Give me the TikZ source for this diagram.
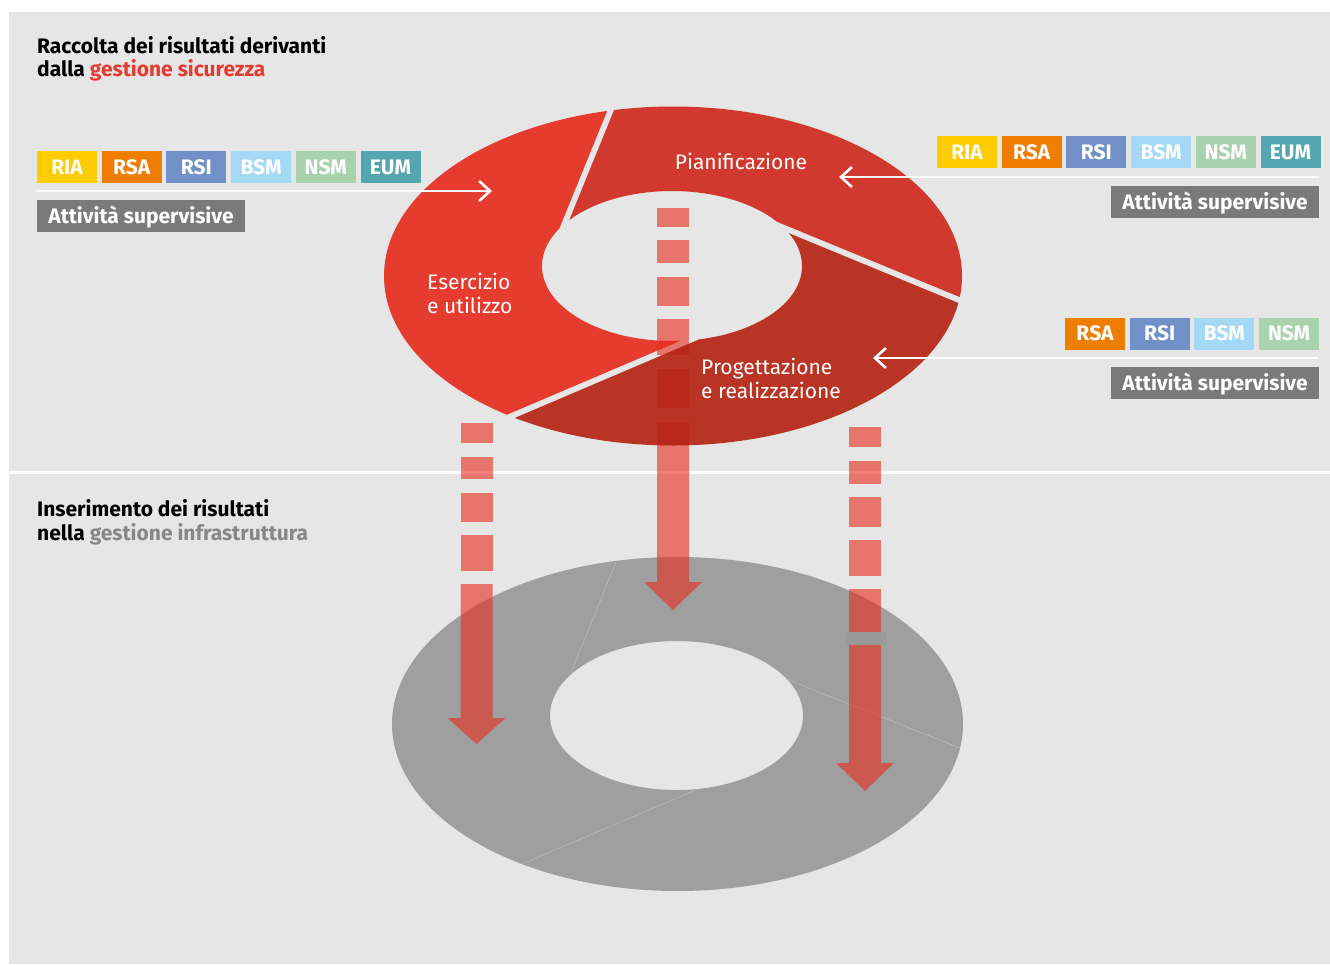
\documentclass[tikz,border=0pt]{standalone}
\usepackage{fontspec}
\setmainfont{Fira Sans}
\usetikzlibrary{positioning,arrows.meta}

\definecolor{panel}{HTML}{E6E6E6}
\definecolor{redEs}{RGB}{230,41,28}
\definecolor{redPi}{RGB}{207,39,27}
\definecolor{redPr}{RGB}{181,33,16}
\definecolor{dropred}{RGB}{233,43,27}
\definecolor{ringgrey}{HTML}{9F9F9F}
\definecolor{seam}{HTML}{B9B9B9}
\definecolor{cRIA}{HTML}{FFCC00}
\definecolor{cRSA}{HTML}{EF7D00}
\definecolor{cRSI}{HTML}{7290C8}
\definecolor{cBSM}{HTML}{A3D9F5}
\definecolor{cNSM}{HTML}{A8D3AE}
\definecolor{cEUM}{HTML}{54A6B1}
\definecolor{actgrey}{HTML}{7A7A7A}
\definecolor{hdrred}{HTML}{E53C2F}
\definecolor{hdrgrey}{HTML}{878787}

% x centre, shaft top, head top, tip, dashes
\newcommand{\dropbar}[5]{%
  \foreach \ya/\yb in {#5}
    \fill[drop] (#1-16,\ya) rectangle (#1+16,\yb);
  \fill[drop] (#1-16,#2) -- (#1-16,#3) -- (#1-29,#3) -- (#1,#4)
    -- (#1+29,#3) -- (#1+16,#3) -- (#1+16,#2) -- cycle;
}

\begin{document}
\begin{tikzpicture}[x=1pt, y=-1pt,
    drop/.style={fill=dropred, fill opacity=0.6},
    tag/.style={fill=#1, text=white, font=\fontsize{21}{21}\selectfont\bfseries,
      minimum width=60pt, minimum height=32pt, inner sep=0pt,
      text height=14.5pt, text depth=0pt},
    act/.style={fill=actgrey, text=white, font=\fontsize{21}{21}\selectfont\bfseries,
      minimum width=208pt, minimum height=32pt, inner sep=0pt,
      text height=14.5pt, text depth=0pt},
    hdr/.style={font=\fontsize{21}{23.5}\selectfont\bfseries, align=left,
      inner sep=0pt, anchor=base west},
    seg/.style={text=white, font=\fontsize{21}{24}\selectfont, align=left,
      inner sep=0pt, anchor=base west},
    feed/.style={white, line width=2.6pt, -{Straight Barb[length=11pt,width=20pt]}},
    node distance=4.3pt]

  \useasboundingbox (0,0) rectangle (1330,964);
  \fill[white] (0,0) rectangle (1330,964);
  \fill[panel] (9,12) rectangle (1330,964);
  \draw[white, line width=3pt] (9,472.5) -- (1330,472.5);

  % lower ring
  \fill[ringgrey, even odd rule] (677.5,724) ellipse [x radius=285.5pt, y radius=167pt]
    (676.5,715.5) ellipse [x radius=126.5pt, y radius=74.5pt];
  \draw[seam, line width=0.6pt] (616,562) -- (571,673) (786,679) -- (960,748)
    (698,789) -- (522,864);
  \fill[ringgrey!97!black] (846,632) rectangle (887,645);

  % dashed drops
  \dropbar{476.5}{584}{718}{744}{423/443, 457/479, 493/522, 535/571}
  \dropbar{673}{422}{582}{610}{208/227, 240/263, 277/306, 319/355, 369/408}
  \dropbar{865}{645}{763}{791}{427/447, 461/484, 497/527, 540/576, 589/632}

  % upper ring
  \coordinate (hc) at (672,266);
  \begin{scope}
    \clip (hc) -- (715.2,326) -- (460,434.7) -- (360,434.7) -- (360,54.4)
      -- (630.2,54.4) -- (554.3,240.9) -- cycle;
    \fill[redEs, fill opacity=0.9, even odd rule] (673,276) ellipse [x radius=289pt, y radius=169.5pt]
      (hc) ellipse [x radius=130pt, y radius=75pt];
  \end{scope}
  \begin{scope}
    \clip (hc) -- (559.9,243.1) -- (635.8,56.6) -- (1030,56.6) -- (1030,318.8)
      -- (1012.6,318.8) -- (759.1,214.4) -- cycle;
    \fill[redPi, fill opacity=0.9, even odd rule] (673,276) ellipse [x radius=289pt, y radius=169.5pt]
      (hc) ellipse [x radius=130pt, y radius=75pt];
  \end{scope}
  \begin{scope}
    \clip (hc) -- (756.9,220) -- (1010.4,324.4) -- (1030,324.4) -- (1030,480)
      -- (462.4,480) -- (462.4,440.3) -- (717.6,331.5) -- cycle;
    \fill[redPr, fill opacity=0.9, even odd rule] (673,276) ellipse [x radius=289pt, y radius=169.5pt]
      (hc) ellipse [x radius=130pt, y radius=75pt];
  \end{scope}

  \node[seg, anchor=base] (pian) at (741,169.3) {Pianificazione};
  \node[seg] (eserc) at (427,313) {Esercizio\\e utilizzo};
  \node[seg] (progr) at (701,398) {Progettazione\\e realizzazione};

  % headings
  \node[hdr] (hdrtop) at (37,76.7) {Raccolta dei risultati derivanti\\dalla \textcolor{hdrred}{gestione sicurezza}};
  \node[hdr] (hdrbot) at (37,540) {Inserimento dei risultati\\nella \textcolor{hdrgrey}{gestione infrastruttura}};

  % left tags
  \node[tag=cRIA] (lRIA) at (67,167) {RIA};
  \node[tag=cRSA, right=of lRIA] (lRSA) {RSA};
  \node[tag=cRSI, right=of lRSA] (lRSI) {RSI};
  \node[tag=cBSM, right=of lRSI] (lBSM) {BSM};
  \node[tag=cNSM, right=of lBSM] (lNSM) {NSM};
  \node[tag=cEUM, right=of lNSM] (lEUM) {EUM};
  \node[act] (lact) at (141,216) {Attività supervisive};

  % right tags, top
  \node[tag=cRIA] (tRIA) at (967,152) {RIA};
  \node[tag=cRSA, right=of tRIA] (tRSA) {RSA};
  \node[tag=cRSI, right=of tRSA] (tRSI) {RSI};
  \node[tag=cBSM, right=of tRSI] (tBSM) {BSM};
  \node[tag=cNSM, right=of tBSM] (tNSM) {NSM};
  \node[tag=cEUM, right=of tNSM] (tEUM) {EUM};
  \node[act] (tact) at (1215,202) {Attività supervisive};

  % right tags, bottom
  \node[tag=cRSA] (bRSA) at (1095,333.5) {RSA};
  \node[tag=cRSI, right=of bRSA] (bRSI) {RSI};
  \node[tag=cBSM, right=of bRSI] (bBSM) {BSM};
  \node[tag=cNSM, right=of bBSM] (bNSM) {NSM};
  \node[act] (bact) at (1215,383) {Attività supervisive};

  % feeds into the ring
  \coordinate (lfrom) at (37,191);
  \coordinate (lto) at (492,191);
  \coordinate (tfrom) at (1319,177);
  \coordinate (tto) at (839,177);
  \coordinate (bfrom) at (1318,358);
  \coordinate (bto) at (873,358);
  \draw[feed] (lfrom) -- (lto);
  \draw[feed] (tfrom) -- (tto);
  \draw[feed] (bfrom) -- (bto);
\end{tikzpicture}
\end{document}
